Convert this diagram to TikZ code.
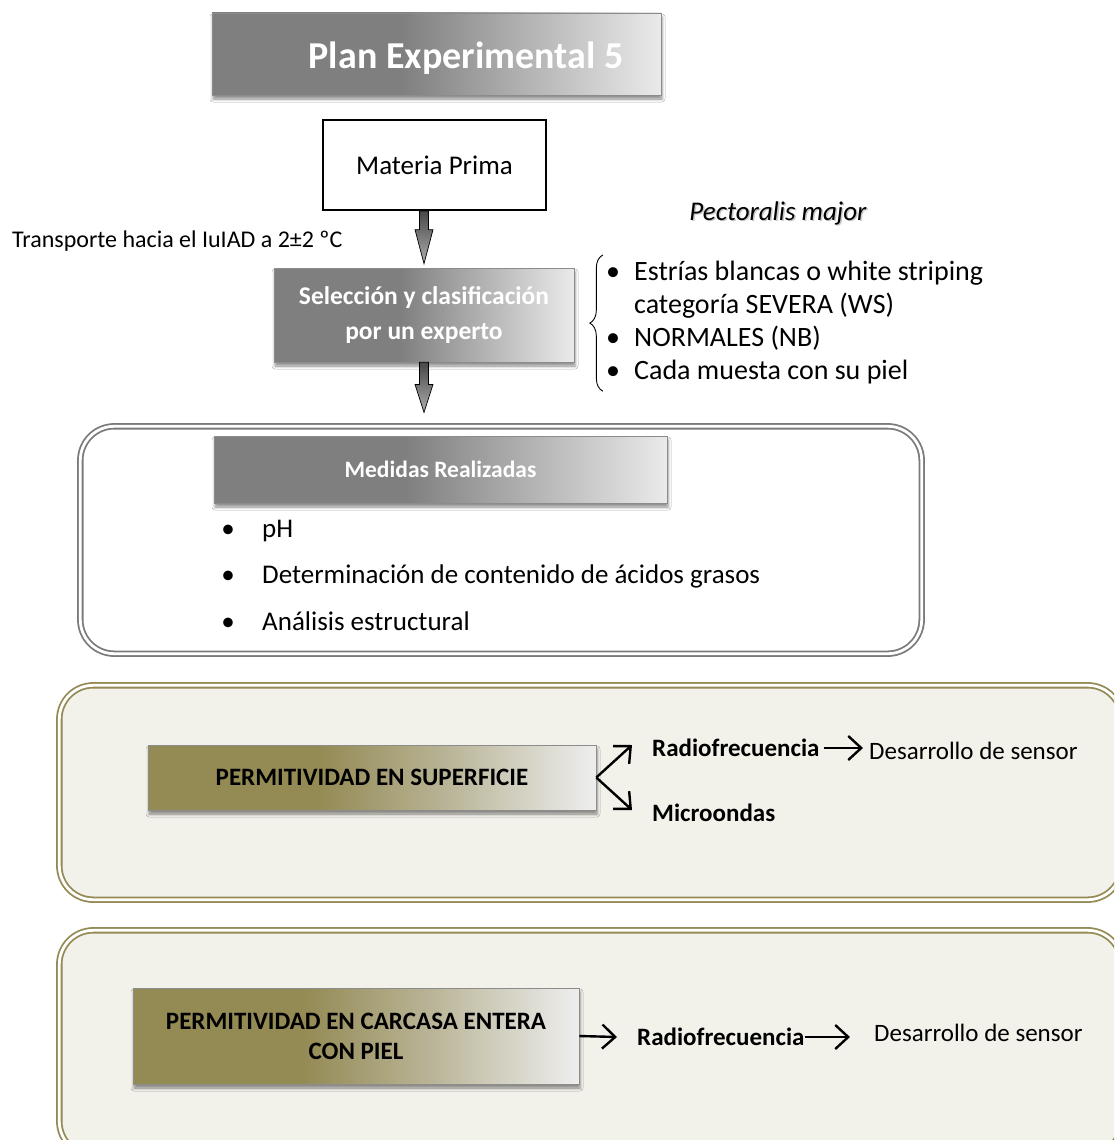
\documentclass[tikz,border=0pt]{standalone}
\usepackage{fontspec}
\setmainfont{Carlito}
\usetikzlibrary{calc,arrows.meta,shadows.blur,decorations.pathreplacing}

\definecolor{fadeA}{HTML}{7F7F7F}
\definecolor{fadeB}{HTML}{EAEAEA}
\definecolor{oliveA}{HTML}{948A54}
\definecolor{oliveM}{HTML}{B8B395}
\definecolor{oliveB}{HTML}{EEEEEE}
\definecolor{frameolive}{HTML}{948A54}
\definecolor{framefill}{HTML}{F2F1EA}
\definecolor{framegray}{HTML}{7A7A7A}

\pgfdeclarehorizontalshading{grayfade}{100bp}{color(0bp)=(fadeA); color(46bp)=(fadeA); color(75bp)=(fadeB); color(100bp)=(fadeB)}
\pgfdeclarehorizontalshading{olivefade}{100bp}{color(0bp)=(oliveA); color(44bp)=(oliveA); color(58bp)=(oliveM); color(75bp)=(oliveB); color(100bp)=(oliveB)}

\newcommand\fsz[1]{\fontsize{#1pt}{#1pt}\selectfont}

% gray block arrow from #1 down to the tip #2, head length #3
\newcommand\blkarrow[3]{%
  \draw[blockarrow] ($(#1)+(-4.5,0)$) -- ($(#2)+(-4.5,-#3)$) -- ($(#2)+(-9,-#3)$)
    -- (#2) -- ($(#2)+(9,-#3)$) -- ($(#2)+(4.5,-#3)$) -- ($(#1)+(4.5,0)$) -- cycle;}

\tikzset{
  boxshadow/.style={blur shadow={shadow xshift=1pt, shadow yshift=-4pt, shadow blur radius=3pt, shadow opacity=45}},
  fadebox/.style={draw=black!45, line width=0.6pt, shade, shading=grayfade, boxshadow},
  olivebox/.style={draw=black!45, line width=0.6pt, shade, shading=olivefade, boxshadow},
  gframe/.style={draw=framegray, double=white, double distance=2.8pt, line width=1.8pt, rounded corners=34pt, fill=white},
  oframe/.style={draw=frameolive, double=white, double distance=2.8pt, line width=1.8pt, rounded corners=34pt, fill=framefill},
  txt/.style={inner sep=0pt},
  blockarrow/.style={draw=black, line width=0.7pt, top color=black!72, bottom color=black!32},
  arr/.style={-{Straight Barb[length=13pt, width=24pt, line width=2.4pt]}, line width=2.4pt, black},
}

\begin{document}
\begin{tikzpicture}[x=1pt,y=-1pt]
\useasboundingbox (0,0) rectangle (1114,1140);
\clip (0,0) rectangle (1114,1140);
\fill[white] (0,0) rectangle (1114,1140);

% heading
\node[fadebox, minimum width=449pt, minimum height=82pt] (title) at (436.5,54) {};
\node[txt, anchor=base, text=white, font=\fsz{38}\bfseries] (titletext) at (466,68) {Plan Experimental 5};

% raw material
\node[draw=black, line width=1.8pt, fill=white, minimum width=223pt, minimum height=90pt, font=\fsz{27}] (mp) at (434.5,165) {Materia Prima};
\node[txt, anchor=base west, font=\fsz{24}] (transp) at (12,247) {Transporte hacia el IuIAD a 2±2 ºC};

% selection step
\node[fadebox, minimum width=300pt, minimum height=94pt, text=white, align=center,
      font=\fontsize{25.5pt}{35pt}\selectfont\bfseries] (sel) at (424,315) {Selección y clasificación\\por un experto};

% species label with its soft shadow
\node[txt, anchor=base, font=\fsz{27}\itshape, text=black!35, opacity=0.6] (pectshadow) at (779.5,221.5) {Pectoralis major};
\node[txt, anchor=base, font=\fsz{27}\itshape] (pect) at (778,220) {Pectoralis major};

% categories
\node[txt, anchor=base, font=\fsz{28}] (bu1) at (613,280) {•};
\node[txt, anchor=base west, font=\fsz{28}] (li1) at (634,280) {Estrías blancas o white striping};
\node[txt, anchor=base west, font=\fsz{28}] (li1b) at (634,313) {categoría SEVERA (WS)};
\node[txt, anchor=base, font=\fsz{28}] (bu2) at (613,346) {•};
\node[txt, anchor=base west, font=\fsz{28}] (li2) at (634,346) {NORMALES (NB)};
\node[txt, anchor=base, font=\fsz{28}] (bu3) at (613,379) {•};
\node[txt, anchor=base west, font=\fsz{28}] (li3) at (634,379) {Cada muesta con su piel};
\draw[decorate, decoration={brace, amplitude=13pt}, line width=0.9pt]
  ($(bu3.south west)+(-3,12)$) -- ($(bu1.north west)+(-3,-12)$);

% measurements frame
\node[gframe, minimum width=841.4pt, minimum height=227.4pt] (medframe) at (501,540) {};
\node[fadebox, minimum width=453pt, minimum height=67pt, text=white, font=\fsz{23.5}\bfseries] (medbox) at (440.5,469.5) {Medidas Realizadas};
\node[txt, anchor=base, font=\fsz{27}] (mb1) at (228,537) {•};
\node[txt, anchor=base west, font=\fsz{27}] (m1) at (262,537) {pH};
\node[txt, anchor=base, font=\fsz{27}] (mb2) at (228,583) {•};
\node[txt, anchor=base west, font=\fsz{27}] (m2) at (262,583) {Determinación de contenido de ácidos grasos};
\node[txt, anchor=base, font=\fsz{27}] (mb3) at (228,630) {•};
\node[txt, anchor=base west, font=\fsz{27}] (m3) at (262,630) {Análisis estructural};

% block arrows
\coordinate (a1s) at (sel.north |- mp.south);
\coordinate (a1e) at ($(sel.north)+(0,-4)$);
\blkarrow{a1s}{a1e}{34}
\coordinate (a2e) at ($(sel.south |- medframe.north)+(0,-13)$);
\blkarrow{sel.south}{a2e}{28}

% surface permittivity
\node[oframe, minimum width=1062.4pt, minimum height=214.4pt] (frameB) at (590.5,792.5) {};
\node[olivebox, minimum width=448pt, minimum height=65pt, font=\fsz{25}\bfseries] (supbox) at (372,777.5) {PERMITIVIDAD EN SUPERFICIE};
\node[txt, anchor=west, font=\fsz{25}\bfseries] (rf1) at (652,748) {Radiofrecuencia};
\node[txt, anchor=west, font=\fsz{25}\bfseries] (mw) at (652,813) {Microondas};
\node[txt, anchor=west, font=\fsz{25}] (dev1) at (869,751) {Desarrollo de sensor};
\draw[arr] (supbox.east) -- ($(rf1.west)+(-20,-3)$);
\draw[arr] (supbox.east) -- ($(mw.west)+(-20,-3)$);
\draw[arr, shorten <=4pt, shorten >=6pt] (rf1.east) -- (rf1.east -| dev1.west);

% whole carcass permittivity
\node[oframe, minimum width=1062.4pt, minimum height=225pt] (frameC) at (590.5,1042.8) {};
\node[olivebox, minimum width=446pt, minimum height=96pt, align=center,
      font=\fontsize{25pt}{30pt}\selectfont\bfseries] (carbox) at (356,1036) {PERMITIVIDAD EN CARCASA ENTERA\\CON PIEL};
\node[txt, anchor=west, font=\fsz{25}\bfseries] (rf2) at (637,1037) {Radiofrecuencia};
\node[txt, anchor=west, font=\fsz{25}] (dev2) at (874,1033) {Desarrollo de sensor};
\draw[arr] (carbox.east) -- ($(rf2.west)+(-20,0)$);
\draw[arr, shorten >=24pt] (rf2.east) -- (rf2.east -| dev2.west);
\end{tikzpicture}
\end{document}
